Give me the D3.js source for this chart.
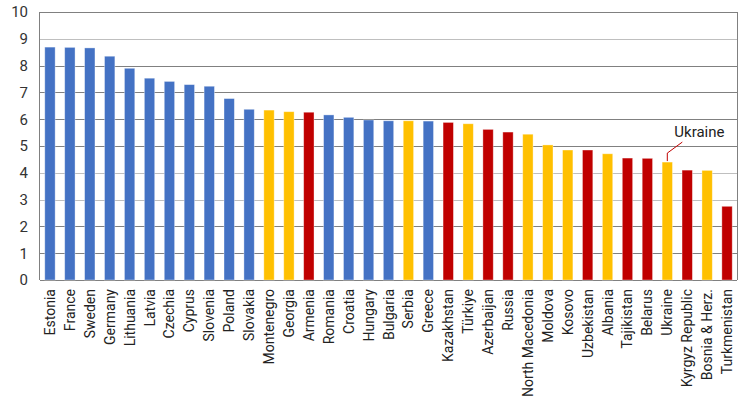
<!DOCTYPE html>
<html>
<head>
<meta charset="utf-8">
<script src="https://cdn.jsdelivr.net/npm/d3@7"></script>
<style>
  body { margin: 0; background: #fff; }
  svg { display: block; font-family: Roboto, "Liberation Sans", sans-serif; }
</style>
</head>
<body>
<div class="container"></div>
<script>
const countries = ['Estonia', 'France', 'Sweden', 'Germany', 'Lithuania', 'Latvia', 'Czechia', 'Cyprus',
    'Slovenia', 'Poland', 'Slovakia', 'Montenegro', 'Georgia', 'Armenia', 'Romania', 'Croatia', 'Hungary',
    'Bulgaria', 'Serbia', 'Greece', 'Kazakhstan', 'Türkiye', 'Azerbaijan', 'Russia', 'North Macedonia',
    'Moldova', 'Kosovo', 'Uzbekistan', 'Albania', 'Tajikistan', 'Belarus', 'Ukraine', 'Kyrgyz Republic',
    'Bosnia & Herz.', 'Turkmenistan'];
const values = [8.69, 8.68, 8.66, 8.35, 7.90, 7.53, 7.41, 7.29, 7.23, 6.77, 6.37, 6.34, 6.28, 6.26, 6.16,
    6.07, 5.97, 5.94, 5.94, 5.93, 5.88, 5.83, 5.62, 5.52, 5.44, 5.04, 4.85, 4.85, 4.71, 4.55, 4.54, 4.40,
    4.10, 4.09, 2.75];
// b = EU/blue, y = yellow, r = red
const groups = ['b', 'b', 'b', 'b', 'b', 'b', 'b', 'b', 'b', 'b', 'b', 'y', 'y', 'r', 'b', 'b', 'b',
    'b', 'y', 'b', 'r', 'y', 'r', 'r', 'y', 'y', 'y', 'r', 'y', 'r', 'r', 'y', 'r', 'y', 'r'];
const yTicks = [0, 1, 2, 3, 4, 5, 6, 7, 8, 9, 10];
const highlight = 'Ukraine';

const w = 745;
const h = 411;
const margin = { top: 12, right: 8, bottom: 131, left: 40 };

const colors = { b: '#4472C4', y: '#FFC000', r: '#C00000' };

const data = countries.map((c, i) => ({ name: c, value: values[i], group: groups[i] }));

const svg = d3.select('.container')
    .append('svg')
    .attr('width', w)
    .attr('height', h)
    .attr('viewBox', [0, 0, w, h]);

const x = d3.scaleBand()
    .domain(countries)
    .range([margin.left, w - margin.right])
    .paddingInner(0.48)
    .paddingOuter(0.24);

const y = d3.scaleLinear()
    .domain([0, 10])
    .range([h - margin.bottom, margin.top]);

// gridlines (some print lighter in the original)
svg.append('g')
    .selectAll('line')
    .data(yTicks)
    .join('line')
    .attr('x1', margin.left)
    .attr('x2', w - margin.right)
    .attr('y1', d => Math.round(y(d)) + 0.5)
    .attr('y2', d => Math.round(y(d)) + 0.5)
    .attr('stroke', d => [3, 4, 9].includes(d) ? '#bfbfbf' : '#808080')
    .attr('stroke-width', 1);

// frame: left axis + right edge
svg.append('line')
    .attr('x1', margin.left - 0.5).attr('x2', margin.left - 0.5)
    .attr('y1', y(10)).attr('y2', y(0))
    .attr('stroke', '#808080');
svg.append('line')
    .attr('x1', w - margin.right + 0.5).attr('x2', w - margin.right + 0.5)
    .attr('y1', y(10)).attr('y2', y(0))
    .attr('stroke', '#808080');

// bars
svg.append('g')
    .selectAll('rect')
    .data(data)
    .join('rect')
    .attr('x', d => x(d.name))
    .attr('y', d => y(d.value))
    .attr('width', x.bandwidth())
    .attr('height', d => y(0) - y(d.value))
    .attr('fill', d => colors[d.group])
    .attr('stroke', '#fff')
    .attr('stroke-opacity', 0.45)
    .attr('stroke-width', 0.8);

// y tick labels
svg.append('g')
    .attr('transform', `translate(${margin.left},0)`)
    .call(d3.axisLeft(y).tickValues(yTicks).tickSize(0).tickPadding(12).tickFormat(d3.format('d')))
    .call(g => g.select('.domain').remove())
    .call(g => g.selectAll('text')
        .attr('font-family', 'Roboto, sans-serif')
        .attr('font-size', 15)
        .attr('fill', '#333'));

// x labels, rotated
svg.append('g')
    .selectAll('text')
    .data(data)
    .join('text')
    .attr('transform', d => `translate(${x(d.name) + x.bandwidth() / 2 + 5},${y(0) + 9}) rotate(-90)`)
    .attr('text-anchor', 'end')
    .attr('font-size', 14)
    .attr('fill', '#222')
    .text(d => d.name);

// Ukraine callout
const u = data.find(d => d.name === highlight);
const ux = x(u.name) + x.bandwidth() / 2;
const uy = y(u.value);
svg.append('path')
    .attr('d', `M${ux},${uy - 1}V${uy - 9}L${ux + 15},${uy - 20}`)
    .attr('fill', 'none')
    .attr('stroke', '#C00000')
    .attr('stroke-width', 1);
svg.append('text')
    .attr('x', ux + 7)
    .attr('y', uy - 25)
    .attr('font-size', 15)
    .attr('fill', '#222')
    .text(highlight);
</script>
</body>
</html>
